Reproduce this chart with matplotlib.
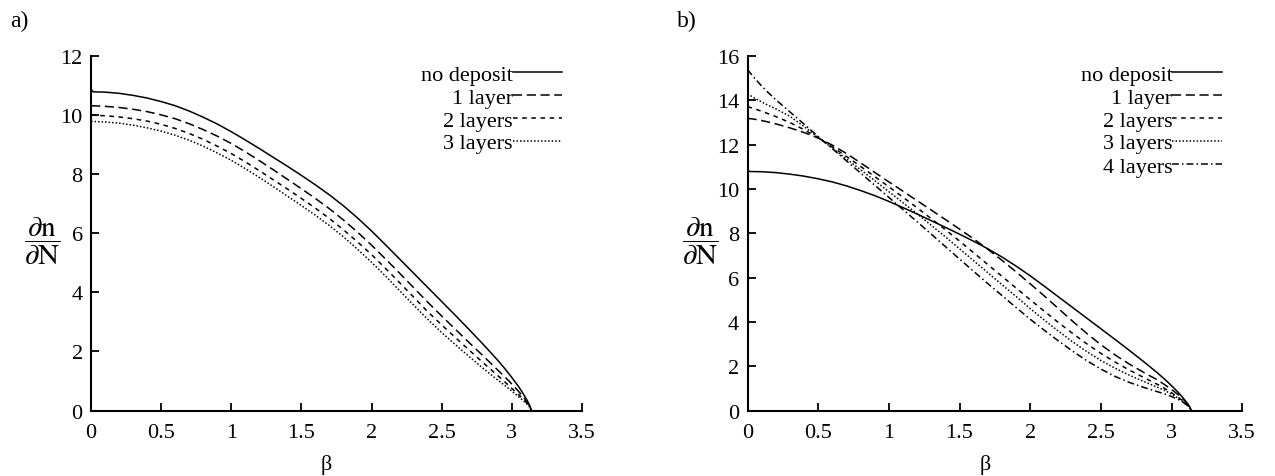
import matplotlib
matplotlib.use("Agg")
import matplotlib.pyplot as plt
from matplotlib.ticker import MultipleLocator, FormatStrFormatter

plt.rcParams['font.family'] = ['Liberation Serif', 'DejaVu Serif']
plt.rcParams['mathtext.fontset'] = 'stix'

# beta values for the "no deposit" curve (has a small kink at beta = 0)
beta_nd = [0, 0.015, 0.1, 0.2, 0.3, 0.4, 0.5, 0.6, 0.7, 0.8, 0.9, 1.0, 1.1,
           1.2, 1.3, 1.4, 1.5, 1.6, 1.7, 1.8, 1.9, 2.0, 2.1, 2.2, 2.3, 2.4,
           2.5, 2.6, 2.7, 2.8, 2.9, 2.95, 3.0, 3.05, 3.08, 3.11, 3.13, 3.14]
no_deposit = [10.88, 10.79, 10.78, 10.74, 10.67, 10.58, 10.46, 10.32, 10.14,
              9.93, 9.70, 9.44, 9.16, 8.87, 8.57, 8.27, 7.96, 7.64, 7.30, 6.93,
              6.52, 6.08, 5.61, 5.13, 4.65, 4.17, 3.69, 3.21, 2.72, 2.22, 1.70,
              1.42, 1.12, 0.80, 0.58, 0.34, 0.15, 0.0]

# panel a) layer curves
beta_a = [0, 0.1, 0.2, 0.3, 0.4, 0.5, 0.6, 0.7, 0.8, 0.9, 1.0, 1.1, 1.2, 1.3,
          1.4, 1.5, 1.6, 1.7, 1.8, 1.9, 2.0, 2.1, 2.2, 2.3, 2.4, 2.5, 2.6, 2.7,
          2.8, 2.9, 2.95, 3.0, 3.05, 3.08, 3.11, 3.13, 3.14]
a_layer1 = [10.32, 10.30, 10.26, 10.20, 10.12, 10.01, 9.88, 9.71, 9.51, 9.29,
            9.04, 8.76, 8.46, 8.15, 7.83, 7.51, 7.18, 6.83, 6.45, 6.04, 5.60,
            5.13, 4.65, 4.16, 3.67, 3.20, 2.74, 2.28, 1.83, 1.37, 1.14, 0.90,
            0.64, 0.47, 0.28, 0.13, 0.0]
a_layer2 = [10.00, 9.98, 9.94, 9.88, 9.80, 9.69, 9.55, 9.38, 9.18, 8.95, 8.70,
            8.42, 8.12, 7.81, 7.50, 7.18, 6.85, 6.50, 6.12, 5.71, 5.28, 4.81,
            4.33, 3.84, 3.35, 2.90, 2.46, 2.03, 1.60, 1.18, 0.97, 0.75, 0.53,
            0.39, 0.24, 0.11, 0.0]
a_layer3 = [9.79, 9.77, 9.73, 9.66, 9.57, 9.46, 9.32, 9.15, 8.95, 8.72, 8.47,
            8.19, 7.89, 7.58, 7.26, 6.94, 6.61, 6.26, 5.88, 5.46, 5.02, 4.55,
            4.06, 3.57, 3.09, 2.64, 2.22, 1.81, 1.41, 1.03, 0.85, 0.66, 0.46,
            0.34, 0.21, 0.10, 0.0]

# panel b) layer curves
beta_b = [0, 0.05, 0.1, 0.15, 0.2, 0.3, 0.4, 0.5, 0.6, 0.7, 0.8, 0.9, 1.0, 1.1,
          1.2, 1.3, 1.4, 1.5, 1.6, 1.7, 1.8, 1.9, 2.0, 2.1, 2.2, 2.3, 2.4, 2.5,
          2.6, 2.7, 2.8, 2.9, 2.95, 3.0, 3.05, 3.08, 3.11, 3.13, 3.14]
b_layer1 = [13.19, 13.15, 13.09, 13.02, 12.94, 12.76, 12.55, 12.30, 11.98,
            11.60, 11.18, 10.75, 10.32, 9.90, 9.47, 9.05, 8.62, 8.19, 7.75,
            7.28, 6.78, 6.26, 5.72, 5.17, 4.60, 4.03, 3.48, 2.97, 2.51, 2.10,
            1.73, 1.38, 1.17, 0.95, 0.70, 0.52, 0.32, 0.15, 0.0]
b_layer2 = [13.72, 13.62, 13.51, 13.39, 13.27, 13.00, 12.68, 12.30, 11.90,
            11.47, 11.02, 10.56, 10.10, 9.63, 9.15, 8.66, 8.16, 7.65, 7.12,
            6.59, 6.06, 5.53, 5.00, 4.48, 3.97, 3.48, 3.01, 2.58, 2.19, 1.83,
            1.50, 1.18, 1.00, 0.80, 0.58, 0.43, 0.27, 0.12, 0.0]
b_layer3 = [14.30, 14.10, 13.93, 13.77, 13.62, 13.28, 12.82, 12.33, 11.85,
            11.36, 10.87, 10.38, 9.88, 9.38, 8.88, 8.36, 7.84, 7.30, 6.76,
            6.22, 5.68, 5.15, 4.60, 4.08, 3.58, 3.10, 2.66, 2.26, 1.91, 1.60,
            1.32, 1.05, 0.91, 0.74, 0.54, 0.40, 0.25, 0.11, 0.0]
b_layer4 = [15.39, 15.00, 14.65, 14.33, 14.03, 13.48, 12.93, 12.37, 11.82,
            11.27, 10.72, 10.17, 9.62, 9.07, 8.52, 7.96, 7.40, 6.84, 6.28,
            5.73, 5.19, 4.65, 4.12, 3.62, 3.14, 2.68, 2.25, 1.87, 1.54, 1.27,
            1.05, 0.85, 0.75, 0.63, 0.49, 0.38, 0.24, 0.11, 0.0]

labels_a = ['no deposit', '1 layer', '2 layers', '3 layers']
labels_b = ['no deposit', '1 layer', '2 layers', '3 layers', '4 layers']

styles = ['-', (0, (6, 3)), (0, (3, 3)), (0, (1, 1.3)), (0, (4.5, 2, 1, 2))]
LW = 1.1
FS = 16

fig = plt.figure(figsize=(12.75, 4.77), dpi=100)
ax_a = fig.add_axes([0.0714, 0.1373, 0.385, 0.743])
ax_b = fig.add_axes([0.5863, 0.1373, 0.388, 0.743])


def style_axes(ax, ymax):
    ax.set_xlim(0, 3.5)
    ax.set_ylim(0, ymax)
    ax.xaxis.set_major_locator(MultipleLocator(0.5))
    ax.yaxis.set_major_locator(MultipleLocator(2))
    ax.xaxis.set_major_formatter(FormatStrFormatter('%g'))
    ax.yaxis.set_major_formatter(FormatStrFormatter('%g'))
    for side in ['top', 'right']:
        ax.spines[side].set_visible(False)
    for side in ['left', 'bottom']:
        ax.spines[side].set_linewidth(1.5)
    ax.tick_params(axis='both', direction='in', length=5.8, width=1.3,
                   labelsize=FS, top=False, right=False)
    ax.tick_params(axis='x', pad=9)
    ax.tick_params(axis='y', pad=6)
    ax.text(0.48, -0.152, 'β', transform=ax.transAxes, ha='center', va='center',
            fontsize=FS)


def draw_key(ax, labels):
    # gnuplot-like key: right-aligned text followed by a line sample
    rows = [0.946, 0.881, 0.816, 0.752, 0.687]
    for i, lab in enumerate(labels):
        y = rows[i]
        ax.text(0.859, y, lab, transform=ax.transAxes, ha='right', va='center',
                fontsize=FS)
        ax.plot([0.859, 0.959], [y + 0.008, y + 0.008], transform=ax.transAxes,
                color='black', lw=LW, ls=styles[i], clip_on=False)


# panel a
ax_a.plot(beta_nd, no_deposit, color='black', lw=LW, ls=styles[0])
ax_a.plot(beta_a, a_layer1, color='black', lw=LW, ls=styles[1])
ax_a.plot(beta_a, a_layer2, color='black', lw=LW, ls=styles[2])
ax_a.plot(beta_a, a_layer3, color='black', lw=LW, ls=styles[3])
style_axes(ax_a, 12)
draw_key(ax_a, labels_a)

# panel b
ax_b.plot(beta_nd, no_deposit, color='black', lw=LW, ls=styles[0])
ax_b.plot(beta_b, b_layer1, color='black', lw=LW, ls=styles[1])
ax_b.plot(beta_b, b_layer2, color='black', lw=LW, ls=styles[2])
ax_b.plot(beta_b, b_layer3, color='black', lw=LW, ls=styles[3])
ax_b.plot(beta_b, b_layer4, color='black', lw=LW, ls=styles[4])
style_axes(ax_b, 16)
draw_key(ax_b, labels_b)

ylab = r'$\dfrac{\partial\mathrm{n}}{\partial\mathrm{N}}$'
fig.text(0.033, 0.493, ylab, ha='center', va='center', fontsize=21)
fig.text(0.549, 0.493, ylab, ha='center', va='center', fontsize=21)

fig.text(0.008, 0.954, 'a)', ha='left', va='center', fontsize=17)
fig.text(0.531, 0.954, 'b)', ha='left', va='center', fontsize=17)

fig.savefig('out.png', dpi=100)
